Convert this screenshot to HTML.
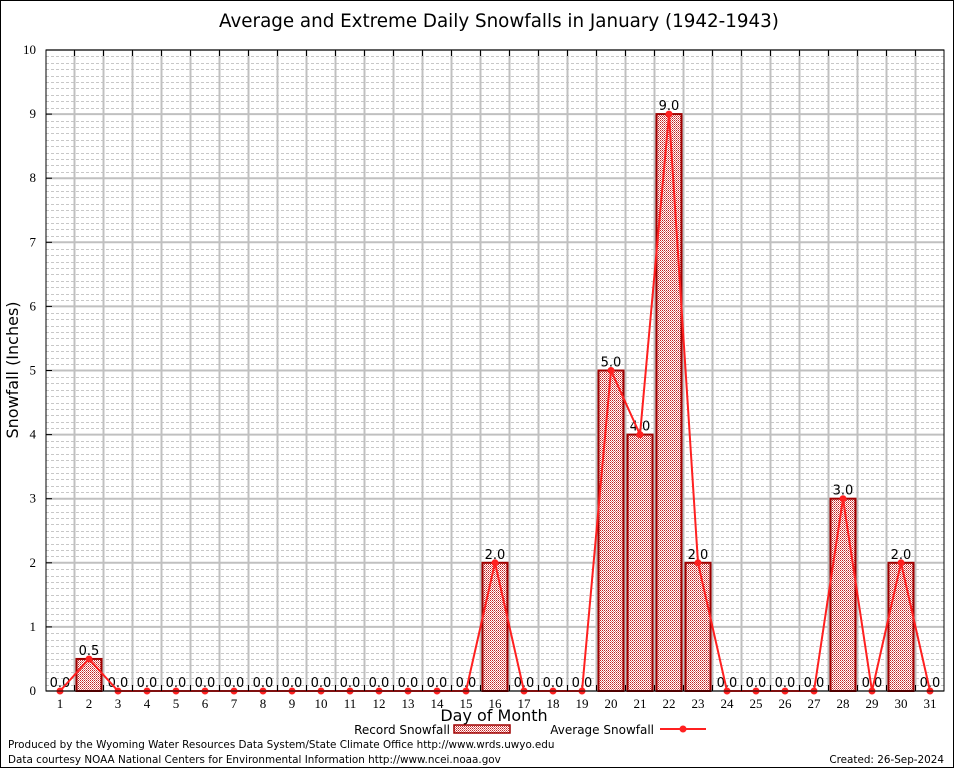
<!DOCTYPE html>
<html><head><meta charset="utf-8"><style>
body{margin:0;background:#fff}
svg text{font-family:"DejaVu Sans","Liberation Sans",sans-serif}
svg text.serif{font-family:"Liberation Serif","DejaVu Serif",serif}
</style></head><body>
<svg id="c" width="954" height="768" xmlns="http://www.w3.org/2000/svg">
<defs>
<pattern id="hatch" width="2" height="2" patternUnits="userSpaceOnUse">
<rect width="2" height="2" fill="#fff"/><rect width="1" height="1" fill="#c02020"/><rect x="1" y="1" width="1" height="1" fill="#e07070"/>
</pattern>
</defs>
<rect x="0.5" y="0.5" width="953" height="767" fill="#fff" stroke="#000"/>
<text x="499" y="27" font-size="18.3" text-anchor="middle">Average and Extreme Daily Snowfalls in January (1942-1943)</text>
<g id="grid"></g>
<g id="bars"></g>
<g id="line"></g>
<g id="axes"></g>
<text transform="translate(18,370) rotate(-90)" font-size="16" text-anchor="middle">Snowfall (Inches)</text>
<text x="494" y="721" font-size="16" text-anchor="middle">Day of Month</text>
<g>
<text x="450" y="734" font-size="12" text-anchor="end">Record Snowfall</text>
<rect x="454" y="725" width="56" height="8" fill="url(#hatch)" stroke="#a00000" stroke-width="1.5"/>
</g>
<g>
<text x="654" y="734" font-size="12" text-anchor="end">Average Snowfall</text>
<line x1="660" y1="729" x2="706" y2="729" stroke="#ff2020" stroke-width="2"/>
<circle cx="683" cy="729" r="3.5" fill="#ff2020"/>
</g>
<text x="8" y="748" font-size="10.4">Produced by the Wyoming Water Resources Data System/State Climate Office http://www.wrds.uwyo.edu</text>
<text x="8" y="763" font-size="10.4">Data courtesy NOAA National Centers for Environmental Information http://www.ncei.noaa.gov</text>
<text x="944" y="763" font-size="10.4" text-anchor="end">Created: 26-Sep-2024</text>
</svg>
<script>
const days=[1,2,3,4,5,6,7,8,9,10,11,12,13,14,15,16,17,18,19,20,21,22,23,24,25,26,27,28,29,30,31];
const recordValues=[0,0.5,0,0,0,0,0,0,0,0,0,0,0,0,0,2,0,0,0,5,4,9,2,0,0,0,0,3,0,2,0];
const averageValues=[0,0.5,0,0,0,0,0,0,0,0,0,0,0,0,0,2,0,0,0,5,4,9,2,0,0,0,0,3,0,2,0];
const yTicks=[0,1,2,3,4,5,6,7,8,9,10];
const L=46,R=944,T=50,B=691,yMax=10;
const x=d=>60+(d-1)*29;
const y=v=>B-(v/yMax)*(B-T);
const NS="http://www.w3.org/2000/svg";
function mk(tag,attrs,parent,txt){const e=document.createElementNS(NS,tag);for(const k in attrs)e.setAttribute(k,attrs[k]);if(txt!==undefined)e.textContent=txt;parent.appendChild(e);return e;}
const grid=document.getElementById('grid'),bars=document.getElementById('bars'),line=document.getElementById('line'),axes=document.getElementById('axes');
for(let i=0;i<yMax*10;i++){if(i%10===0)continue;const yy=Math.round(y(i/10))+0.5;
const g=mk('line',{x1:L,x2:R,y1:yy,y2:yy,stroke:'#c8c8c8','stroke-dasharray':'3,2','stroke-width':1},grid);

}
yTicks.forEach(t=>{const yy=y(t);
const g=mk('line',{x1:L,x2:R,y1:yy,y2:yy,stroke:'#c0c0c0','stroke-width':2},grid);


const tk=mk('line',{x1:L,x2:L+6,y1:yy,y2:yy,stroke:'#000'},axes);


const lb=mk('text',{x:L-10,y:yy+4,'font-size':13,'text-anchor':'end','class':'serif'},axes,String(t));

});
days.forEach((d,i)=>{if(i<days.length-1){const xx=x(d)+14.5;
const g=mk('line',{x1:xx,x2:xx,y1:T,y2:B,stroke:'#c0c0c0','stroke-width':2},grid);


const t1=mk('line',{x1:xx,x2:xx,y1:T,y2:T+6,stroke:'#000'},axes);


const t2=mk('line',{x1:xx,x2:xx,y1:B,y2:B-6,stroke:'#000'},axes);

}
const lb=mk('text',{x:x(d),y:B+17,'font-size':13,'text-anchor':'middle','class':'serif'},axes,String(d));


const v=recordValues[i];
if(v>0){const b=mk('rect',{x:x(d)-12.5,y:y(v),width:25,height:B-y(v),fill:'url(#hatch)',stroke:'#a00000','stroke-width':2},bars);

}
const vl=mk('text',{x:x(d),y:y(v)-4,'font-size':13,'text-anchor':'middle'},bars,v.toFixed(1));

});
const pts=days.map((d,i)=>x(d)+','+y(averageValues[i])).join(' ');
const pl=mk('polyline',{points:pts,fill:'none',stroke:'#ff2020','stroke-width':2},line);


days.forEach((d,i)=>{const c=mk('circle',{cx:x(d),cy:y(averageValues[i]),r:3.5,fill:'#ff2020'},line);

});
const fr=mk('rect',{x:L,y:T,width:R-L,height:B-T,fill:'none',stroke:'#000','stroke-width':1},axes);


</script>
</body></html>
